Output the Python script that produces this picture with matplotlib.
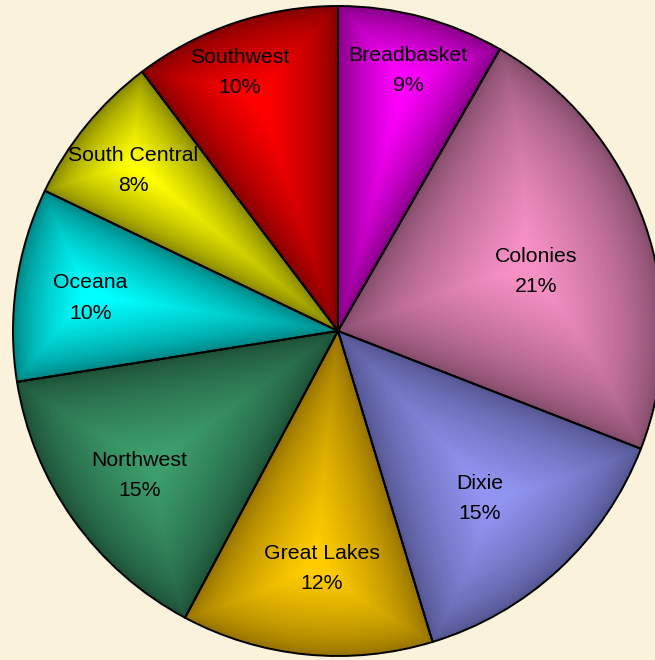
import numpy as np
import matplotlib.pyplot as plt
from matplotlib.colors import to_rgb

regions = ['Breadbasket', 'Colonies', 'Dixie', 'Great Lakes', 'Northwest',
           'Oceana', 'South Central', 'Southwest']
share = [8.3, 22.6, 14.4, 12.5, 14.7, 9.6, 7.6, 10.3]
pct_text = ['9%', '21%', '15%', '12%', '15%', '10%', '8%', '10%']
bright = ['#ff00ff', '#f690c4', '#9294f2', '#ffcc00', '#3c9e6c',
          '#00ffff', '#ffff00', '#ff0000']
dark = ['#7c007c', '#7e4866', '#50528c', '#8e6c00', '#1c4c34',
        '#007c7c', '#7c7c00', '#7c0000']
label_r = [0.837, 0.64, 0.67, 0.725, 0.757, 0.77, 0.805, 0.858]
# small pixel nudges for label placement (x right, y down)
nudge_x = [0, 2, -6, 7, 2, 0, -2, -10]
nudge_y = [2, 10, 8, 3, 2, 3, 5, 6]

W, H = 655, 660
cx, cy, R = 338, 331, 325

fig = plt.figure(figsize=(W / 100, H / 100), dpi=100)
fig.patch.set_facecolor('#fbf2dc')
ax = fig.add_axes([0, 0, 1, 1])
ax.axis('off')

# pie in pixel coords (y up); start at top, clockwise
wedges, _ = ax.pie(share, center=(cx, H - cy), radius=R, startangle=90,
                   counterclock=False, normalize=True,
                   wedgeprops=dict(edgecolor='black', linewidth=1.4, facecolor='none'))
ax.set_xlim(0, W)
ax.set_ylim(0, H)
ax.set_aspect('equal')

# bevel shading image per slice
xx, yy = np.meshgrid(np.arange(W) + 0.5, np.arange(H) + 0.5)
dx = xx - cx
dy = (H - yy) - (H - cy)
r = np.hypot(dx, dy)
ang = np.degrees(np.arctan2(dx, dy)) % 360  # clockwise from top
edges = np.concatenate([[0], np.cumsum(share)]) / np.sum(share) * 360

for i, w in enumerate(wedges):
    a0, a1 = edges[i], edges[i + 1]
    d0 = np.radians(np.clip(ang - a0, 0, 90))
    d1 = np.radians(np.clip(a1 - ang, 0, 90))
    d = np.minimum.reduce([R - r, r * np.sin(d0), r * np.sin(d1)])
    half = np.radians((a1 - a0) / 2)
    depth = R * np.sin(half) / (1 + np.sin(half))
    t = np.clip(d / (0.9 * depth), 0, 1) ** 0.65
    c0 = np.array(to_rgb(dark[i]))
    c1 = np.array(to_rgb(bright[i]))
    img = c0 + (c1 - c0) * t[..., None]
    im = ax.imshow(img, extent=(0, W, 0, H), origin='upper', zorder=0.5,
                   interpolation='bilinear')
    im.set_clip_path(w)
    w.set_zorder(1)

for i, name in enumerate(regions):
    mid = np.radians((edges[i] + edges[i + 1]) / 2)
    lx = cx + label_r[i] * R * np.sin(mid) + nudge_x[i]
    ly = (H - cy) + label_r[i] * R * np.cos(mid) - nudge_y[i]
    ax.text(lx, ly, name + '\n' + pct_text[i], ha='center', va='center',
            fontsize=15.3, family='Liberation Sans', linespacing=1.75, zorder=3)

fig.savefig('out.png', dpi=100, facecolor=fig.get_facecolor())
